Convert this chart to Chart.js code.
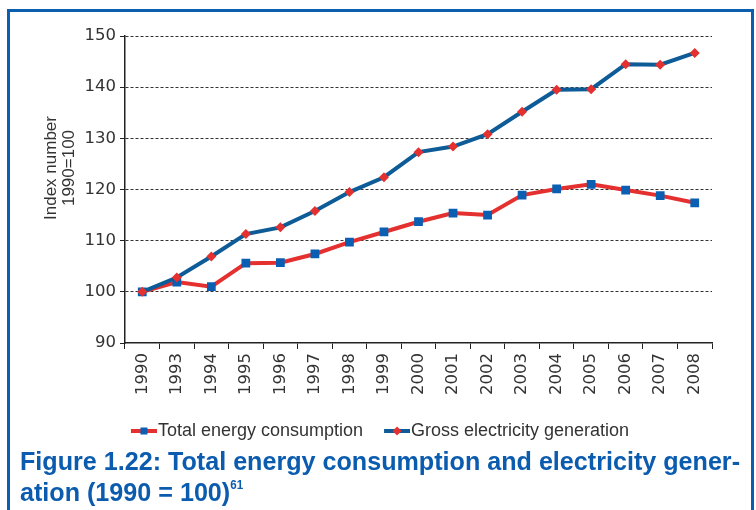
<!DOCTYPE html>
<html>
<head>
<meta charset="utf-8">
<script src="https://cdn.jsdelivr.net/npm/chart.js@4.4.1/dist/chart.umd.min.js"></script>
<style>
    body { margin: 0; background: #fff; width: 756px; height: 510px; overflow: hidden; position: relative; }
    #frame { position: absolute; left: 7px; top: 9px; width: 741px; height: 520px; border: 3px solid #0b5fae; border-bottom: none; }
    #chartWrap { position: absolute; left: 0; top: 0; width: 756px; height: 450px; }
    #caption { position: absolute; left: 20px; top: 446px; font-family: 'Liberation Sans Narrow', 'Liberation Sans', Arial, sans-serif; font-weight: bold; font-size: 26px; line-height: 31px; color: #0b5cae; white-space: nowrap; transform-origin: 0 0; }
    #caption sup { font-size: 12px; vertical-align: 0; position: relative; top: -12px; }
</style>
</head>
<body>
<div id="frame"></div>
<div id="chartWrap"><canvas id="energyChart" width="756" height="450"></canvas></div>
<div id="caption"><span id="capLine1">Figure 1.22: Total energy consumption and electricity gener-</span><br>ation (1990 = 100)<sup>61</sup></div>
<script>
const years = ['1990', '1993', '1994', '1995', '1996', '1997', '1998', '1999', '2000', '2001', '2002', '2003', '2004', '2005', '2006', '2007', '2008'];
const energyConsumption = [100, 101.9, 101.0, 105.6, 105.7, 107.4, 109.7, 111.7, 113.7, 115.4, 115.0, 118.9, 120.1, 121.0, 119.9, 118.8, 117.4];
const electricityGeneration = [100, 102.8, 106.9, 111.3, 112.6, 115.8, 119.5, 122.4, 127.3, 128.4, 130.8, 135.2, 139.5, 139.6, 144.5, 144.4, 146.7];
const yTicks = [90, 100, 110, 120, 130, 140, 150];
const yTitleLines = ['Index number', '1990=100'];

const RED = '#e4302f';
const BLUE_LINE = '#0d5b97';
const BLUE_MARK = '#0a5fb2';

// el titulo es una fuente condensada: se estrecha hasta el ancho del original
const capLine1 = document.getElementById('capLine1');
const capScale = 720 / capLine1.getBoundingClientRect().width;
document.getElementById('caption').style.transform = `scaleX(${capScale})`;

// imagen de la leyenda: linea con marcador en el medio
function legendIcon(lineColor, markColor, diamond) {
    const c = document.createElement('canvas');
    c.width = 42;
    c.height = 12;
    const ctx = c.getContext('2d');
    ctx.strokeStyle = lineColor;
    ctx.lineWidth = 4;
    ctx.beginPath();
    ctx.moveTo(16, 6);
    ctx.lineTo(42, 6);
    ctx.stroke();
    ctx.fillStyle = markColor;
    if (diamond) {
        ctx.beginPath();
        ctx.moveTo(29, 1.5);
        ctx.lineTo(33.5, 6);
        ctx.lineTo(29, 10.5);
        ctx.lineTo(24.5, 6);
        ctx.closePath();
        ctx.fill();
    } else {
        ctx.fillRect(25.5, 2.5, 7, 7);
    }
    return c;
}

const yTitlePlugin = {
    id: 'yTitle',
    afterDraw(chart) {
        const ctx = chart.ctx;
        const area = chart.chartArea;
        const cy = area.top + (area.bottom - area.top) * 0.43;
        ctx.save();
        ctx.fillStyle = '#333';
        ctx.font = '17px "Liberation Sans", Arial, sans-serif';
        ctx.textAlign = 'center';
        ctx.textBaseline = 'middle';
        yTitleLines.forEach((line, i) => {
            ctx.save();
            ctx.translate(51 + i * 18, cy);
            ctx.rotate(-Math.PI / 2);
            ctx.fillText(line, 0, 0);
            ctx.restore();
        });
        ctx.restore();
    }
};

const ctx = document.getElementById('energyChart').getContext('2d');
const energyChart = new Chart(ctx, {
    type: 'line',
    data: {
        labels: years,
        datasets: [
            {
                label: 'Total energy consumption',
                data: energyConsumption,
                borderColor: RED,
                backgroundColor: BLUE_MARK,
                borderWidth: 4,
                pointStyle: 'rect',
                pointRadius: 6.2,
                pointBorderWidth: 0,
                pointBackgroundColor: BLUE_MARK,
                tension: 0,
                order: 1
            },
            {
                label: 'Gross electricity generation',
                data: electricityGeneration,
                borderColor: BLUE_LINE,
                backgroundColor: RED,
                borderWidth: 4,
                pointStyle: 'rectRot',
                pointRadius: 5,
                pointBorderWidth: 0,
                pointBackgroundColor: RED,
                tension: 0,
                order: 0
            }
        ]
    },
    options: {
        responsive: false,
        animation: false,
        layout: { padding: { left: 40, top: 36, right: 44, bottom: 0 } },
        plugins: {
            tooltip: { enabled: false },
            legend: {
                position: 'bottom',
                labels: {
                    usePointStyle: true,
                    pointStyleWidth: 26,
                    boxWidth: 26,
                    boxHeight: 12,
                    padding: 13,
                    color: '#333',
                    font: { family: '"Liberation Sans", Arial, sans-serif', size: 18 },
                    generateLabels: (chart) => chart.data.datasets.map((ds, i) => ({
                        text: ds.label,
                        pointStyle: i === 0 ? legendIcon(RED, BLUE_MARK, false) : legendIcon(BLUE_LINE, RED, true),
                        datasetIndex: i,
                        fontColor: '#333',
                        lineWidth: 0,
                        strokeStyle: 'transparent',
                        fillStyle: 'transparent'
                    }))
                }
            }
        },
        scales: {
            x: {
                offset: true,
                afterFit: (scale) => { scale.height = 66; },
                grid: {
                    offset: true,
                    drawOnChartArea: false,
                    drawTicks: true,
                    tickLength: 6,
                    color: '#222'
                },
                border: { display: true, color: '#222', width: 1.5 },
                ticks: {
                    autoSkip: false,
                    minRotation: 90,
                    maxRotation: 90,
                    padding: 4,
                    color: '#333',
                    font: { family: '"DejaVu Sans", sans-serif', size: 16.5 }
                }
            },
            y: {
                min: 90,
                max: 150,
                afterFit: (scale) => { scale.width = 85; },
                afterBuildTicks: (scale) => { scale.ticks = yTicks.map(v => ({ value: v })); },
                grid: {
                    color: (c) => c.tick && c.tick.value === 90 ? 'transparent' : '#333',
                    lineWidth: 1,
                    tickBorderDash: [1, 0],
                    tickColor: '#222',
                    tickLength: 5
                },
                border: { display: true, color: '#222', width: 1.5, dash: [3, 2] },
                ticks: {
                    padding: 4,
                    color: '#333',
                    font: { family: '"DejaVu Sans", sans-serif', size: 16.5 }
                }
            }
        }
    },
    plugins: [yTitlePlugin]
});
</script>
</body>
</html>
